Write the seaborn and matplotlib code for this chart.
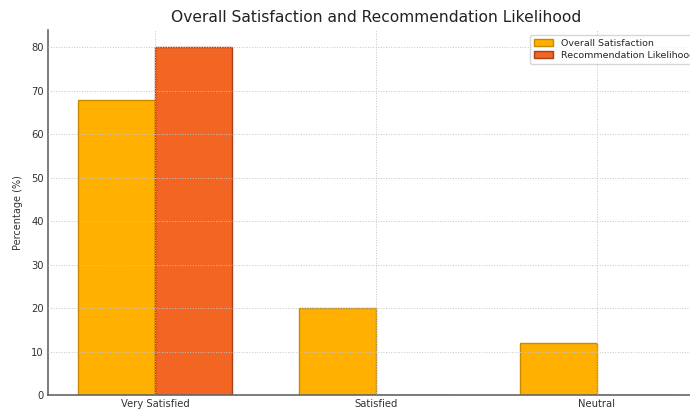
import matplotlib
matplotlib.use("Agg")
import matplotlib.pyplot as plt
import seaborn as sns
import pandas as pd

categories = ["Very Satisfied", "Satisfied", "Neutral"]
overall_satisfaction = [68, 20, 12]
recommendation_likelihood = [80, 0, 0]
series_names = ["Overall Satisfaction", "Recommendation Likelihood"]

df = pd.DataFrame({
    "Category": categories * 2,
    "Series": [series_names[0]] * 3 + [series_names[1]] * 3,
    "Value": overall_satisfaction + recommendation_likelihood,
})

sns.set_style("white")
plt.rcParams['font.family'] = ['DejaVu Sans']

fig = plt.figure(figsize=(6.9, 4.09), dpi=100)
ax = fig.add_axes([48/690, 14/409, 656/690, 365/409])

palette = {series_names[0]: "#FFB000", series_names[1]: "#F26522"}
sns.barplot(data=df, x="Category", y="Value", hue="Series", palette=palette,
            width=0.7, saturation=1, ax=ax, legend=True)

edges = ["#C98A00", "#A8401A"]
for cont, ec in zip(ax.containers, edges):
    for p in cont:
        p.set_edgecolor(ec)
        p.set_linewidth(1.0)

ax.set_xlim(-0.485, 2.485)
ax.set_ylim(0, 84)
ax.set_yticks(range(0, 81, 10))
ax.set_xlabel("")
ax.set_ylabel("Percentage (%)", fontsize=7, color="#333333", labelpad=6)
ax.set_title("Overall Satisfaction and Recommendation Likelihood", fontsize=11.2, color="#222222", pad=6)
ax.tick_params(axis="both", labelsize=7.2, colors="#333333", length=0, pad=3)
ax.set_axisbelow(False)
ax.grid(True, linestyle=":", color="#C4C4C4", linewidth=0.7)
for s in ["top", "right"]:
    ax.spines[s].set_visible(False)
for s in ["left", "bottom"]:
    ax.spines[s].set_color("#666666")
    ax.spines[s].set_linewidth(1.2)

leg = ax.legend(loc="upper right", fontsize=6.8, frameon=True, handlelength=2.0,
                borderpad=0.45, labelspacing=0.3)
leg.get_frame().set_edgecolor("#CCCCCC")
for h, ec in zip(leg.legend_handles, edges):
    h.set_edgecolor(ec)
    h.set_linewidth(1.0)

fig.savefig("out.png", dpi=100)
